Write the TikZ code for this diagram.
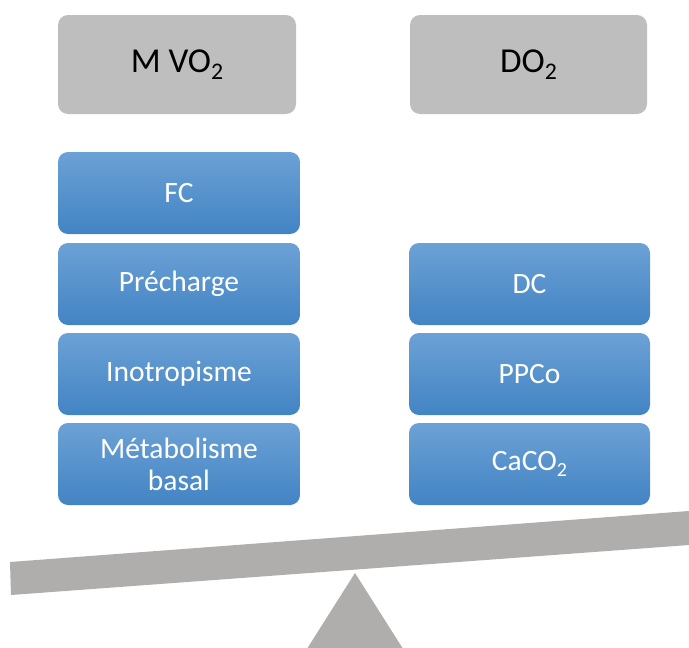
\documentclass[tikz,border=0pt]{standalone}
\usepackage{fontspec}
\setmainfont{Carlito}
\definecolor{boxgray}{RGB}{191,190,190}
\definecolor{beamgray}{RGB}{176,173,173}
\definecolor{bluetop}{RGB}{108,161,213}
\definecolor{bluebot}{RGB}{66,132,196}
\newcommand\lowsub[1]{\raisebox{-0.45ex}{\scalebox{0.68}{#1}}}
\begin{document}
\begin{tikzpicture}[x=1pt,y=-1pt,
  graybox/.style={rectangle,rounded corners=10pt,fill=boxgray,draw=none,
    minimum height=99pt,text=black,font=\fontsize{35}{40}\selectfont,inner sep=0pt},
  bluebox/.style={rectangle,rounded corners=10pt,top color=bluetop,bottom color=bluebot,draw=none,
    minimum height=82pt,text=white,font=\fontsize{29.5}{32}\selectfont,inner sep=0pt,align=center},
  beam/.style={fill=beamgray,draw=none}]
\useasboundingbox (0,0) rectangle (689,648);
\node[graybox,minimum width=238pt] (mvo2) at (177,64.5) {M VO\lowsub{2}};
\node[graybox,minimum width=237pt] (do2) at (528.5,64.5) {DO\lowsub{2}};
\node[bluebox,minimum width=242pt] (fc) at (179,193) {FC};
\node[bluebox,minimum width=242pt] (prech) at (179,284) {Précharge};
\node[bluebox,minimum width=242pt] (ino) at (179,374) {Inotropisme};
\node[bluebox,minimum width=242pt] (meta) at (179,464) {Métabolisme\\basal};
\node[bluebox,minimum width=241pt] (dc) at (529.5,284) {DC};
\node[bluebox,minimum width=241pt] (ppco) at (529.5,374) {PPCo};
\node[bluebox,minimum width=241pt] (caco) at (529.5,464) {CaCO\lowsub{2}};
\fill[beam] (10,562) -- (689,511) -- (689,545) -- (11,595) -- cycle;
\fill[beam] (355,573) -- (402.5,648) -- (307.5,648) -- cycle;
\end{tikzpicture}
\end{document}
